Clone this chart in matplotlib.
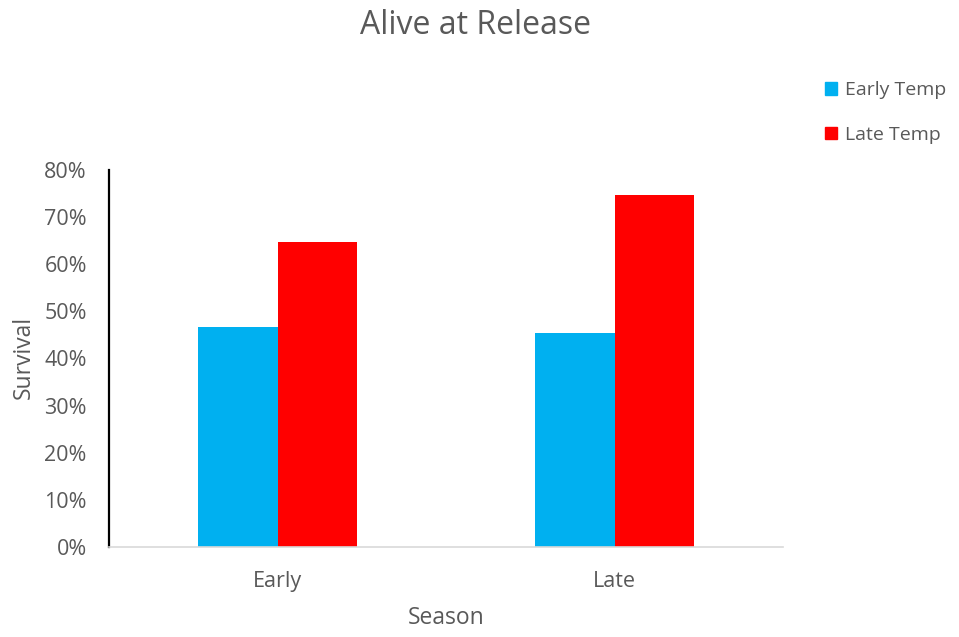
import matplotlib
matplotlib.use("Agg")
import matplotlib.pyplot as plt
import numpy as np
from matplotlib.ticker import PercentFormatter
from matplotlib.patches import Patch

plt.rcParams['font.family'] = ['Open Sans', 'DejaVu Sans']

seasons = ["Early", "Late"]
series_names = ["Early Temp", "Late Temp"]
early_temp = [46.7, 45.5]
late_temp = [64.8, 74.6]
colors = ["#00B0F0", "#FF0000"]
yticks = [0, 10, 20, 30, 40, 50, 60, 70, 80]

text_color = "#595959"

fig = plt.figure(figsize=(9.59, 6.37), dpi=100)
W, H = 959, 637
ax = fig.add_axes([109 / W, 1 - 547 / H, (783 - 109) / W, (547 - 170) / H])

x = np.arange(len(seasons))
width = 0.237
ax.bar(x - width / 2, early_temp, width, color=colors[0], label=series_names[0])
ax.bar(x + width / 2, late_temp, width, color=colors[1], label=series_names[1])

ax.set_xlim(-0.5, 1.5)
ax.set_ylim(0, 80)
ax.set_yticks(yticks)
ax.yaxis.set_major_formatter(PercentFormatter(decimals=0))
ax.set_xticks(x)
ax.set_xticklabels(seasons)
ax.tick_params(axis='both', length=0, labelsize=15.5, colors=text_color)
ax.tick_params(axis='y', pad=16)
ax.tick_params(axis='x', pad=17)

for side in ("top", "right"):
    ax.spines[side].set_visible(False)
ax.spines["left"].set_color("black")
ax.spines["left"].set_linewidth(1.6)
ax.spines["bottom"].set_color("#D9D9D9")
ax.spines["bottom"].set_linewidth(1.2)

fig.text(24 / W, 1 - 357 / H, "Survival", rotation=90, ha="center", va="center",
         fontsize=16.5, color=text_color)
fig.text(446 / W, 1 - 618 / H, "Season", ha="center", va="center",
         fontsize=16.5, color=text_color)
fig.text(476 / W, 1 - 25 / H, "Alive at Release", ha="center", va="center",
         fontsize=23, color=text_color)

handles = [Patch(color=c) for c in colors]
fig.legend(handles, series_names, loc="upper left", bbox_to_anchor=(807 / W, 1 - 64 / H),
           frameon=False, fontsize=14, labelcolor=text_color, handlelength=0.62,
           handleheight=0.62, handletextpad=0.41, labelspacing=1.35)

fig.savefig("out.png", dpi=100)
